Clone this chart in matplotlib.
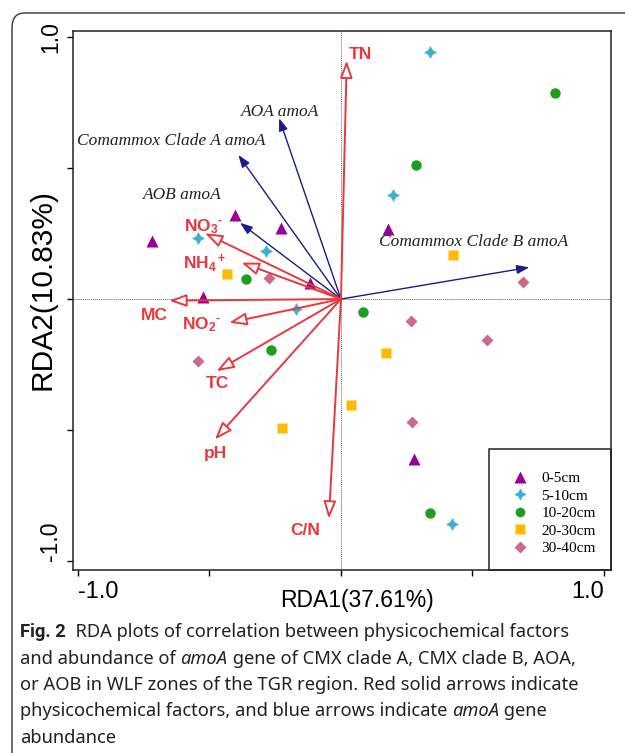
import matplotlib
matplotlib.use('Agg')
import matplotlib.pyplot as plt
from matplotlib.patches import FancyArrowPatch, FancyBboxPatch, Rectangle
from matplotlib.lines import Line2D

plt.rcParams['mathtext.fontset'] = 'custom'
plt.rcParams['mathtext.rm'] = 'Liberation Sans:bold'
plt.rcParams['mathtext.it'] = 'Liberation Sans:bold'
plt.rcParams['mathtext.bf'] = 'Liberation Sans:bold'

# environmental factor arrows (tips) and label positions
env_names = ['TN', 'NO$_3$$^{\\text{-}}$', 'NH$_4$$^+$', 'MC', 'NO$_2$$^{\\text{-}}$', 'TC', 'pH', 'C/N']
env_x = [0.022, -0.517, -0.378, -0.653, -0.425, -0.473, -0.479, -0.046]
env_y = [0.910, 0.251, 0.139, -0.006, -0.090, -0.275, -0.536, -0.838]
env_lx = [0.075, -0.521, -0.517, -0.711, -0.530, -0.470, -0.479, -0.137]
env_ly = [0.935, 0.276, 0.137, -0.061, -0.099, -0.324, -0.589, -0.884]

# gene abundance arrows
gene_names = ['AOA amoA', 'Comammox Clade A amoA', 'AOB amoA', 'Comammox Clade B amoA']
gene_x = [-0.235, -0.390, -0.384, 0.716]
gene_y = [0.690, 0.550, 0.291, 0.121]
gene_lx = [-0.232, -0.646, -0.602, 0.503]
gene_ly = [0.712, 0.603, 0.397, 0.219]

# samples by depth
d0_5_x = [-0.720, -0.403, -0.229, -0.118, -0.524, 0.180, 0.278]
d0_5_y = [0.221, 0.321, 0.270, 0.062, 0.009, 0.267, -0.611]
d5_10_x = [-0.543, -0.285, -0.172, 0.338, 0.199, 0.423]
d5_10_y = [0.232, 0.184, -0.039, 0.944, 0.397, -0.859]
d10_20_x = [-0.361, -0.267, 0.083, 0.285, 0.814, 0.338]
d10_20_y = [0.075, -0.196, -0.048, 0.511, 0.785, -0.818]
d20_30_x = [-0.435, -0.225, 0.038, 0.171, 0.427]
d20_30_y = [0.095, -0.491, -0.403, -0.207, 0.168]
d30_40_x = [-0.275, -0.543, 0.266, 0.554, 0.270, 0.693]
d30_40_y = [0.079, -0.237, -0.085, -0.158, -0.469, 0.066]

depth_labels = ['0-5cm', '5-10cm', '10-20cm', '20-30cm', '30-40cm']

RED = '#E8383D'
NAVY = '#1B1B8A'

fig = plt.figure(figsize=(6.25, 7.53), dpi=100)

# rounded frame around the figure
frame = FancyBboxPatch((12 / 625, -0.05), 1.2, 1 - 13 / 753 + 0.05,
                       boxstyle='round,pad=0,rounding_size=0.02',
                       transform=fig.transFigure, fill=False,
                       edgecolor='#333333', linewidth=1.0)
fig.patches.append(frame)

ax = fig.add_axes([73 / 625, 1 - 570 / 753, (611 - 73) / 625, (570 - 31) / 753])
ax.set_xlim(-1.019, 1.027)
ax.set_ylim(-1.034, 1.023)

ax.axhline(0, color='#666666', lw=0.7, ls=(0, (1, 1)), zorder=1)
ax.axvline(0, color='#666666', lw=0.7, ls=(0, (1, 1)), zorder=1)

for s in ax.spines.values():
    s.set_linewidth(1.1)
    s.set_color('#222222')

ax.set_xticks([-1, -0.5, 0, 0.5, 1])
ax.set_yticks([-1, -0.5, 0, 0.5, 1])
ax.set_xticklabels(['-1.0', '', '', '', '1.0'], fontsize=17, family='Liberation Sans')
ax.set_yticklabels(['-1.0', '', '', '', '1.0'], fontsize=16.5, family='Liberation Sans',
                   rotation=90)
ax.tick_params(direction='out', length=4, width=1, pad=4)
xt = ax.get_xticklabels()
xt[0].set_ha('left')
xt[4].set_ha('right')
yt = ax.get_yticklabels()
yt[0].set_va('bottom')
yt[4].set_va('center')

ax.set_xlabel('RDA1(37.61%)', fontsize=16.5, family='Liberation Sans')
ax.set_ylabel('RDA2(10.83%)', fontsize=21.5, family='Liberation Sans')
ax.xaxis.set_label_coords(0.528, -0.036)
ax.yaxis.set_label_coords(-0.03, 0.521)

# sample points
ax.plot(d0_5_x, d0_5_y, ls='none', marker='^', ms=9, color='#990099', mec='none', zorder=3)
ax.plot(d5_10_x, d5_10_y, ls='none', marker=(4, 1, 0), ms=8.5, color='#3DAFCF', mec='#3DAFCF', mew=0.4, zorder=3)
ax.plot(d10_20_x, d10_20_y, ls='none', marker='o', ms=7.5, color='#1E9E1E', mec='none', zorder=3)
ax.plot(d20_30_x, d20_30_y, ls='none', marker='s', ms=7, color='#FFB900', mec='none', zorder=3)
ax.plot(d30_40_x, d30_40_y, ls='none', marker='D', ms=6.5, color='#CC6A88', mec='none', zorder=3)

# gene arrows (blue)
for name, x, y, lx, ly in zip(gene_names, gene_x, gene_y, gene_lx, gene_ly):
    ax.add_patch(FancyArrowPatch((0, 0), (x, y), arrowstyle='-|>,head_length=0.75,head_width=0.27',
                                 mutation_scale=10, color=NAVY, lw=1.0, shrinkA=0, shrinkB=0, zorder=4))
    ax.text(lx, ly, name, ha='center', va='center', fontsize=12.5, style='italic',
            family='Liberation Serif', color='#222222', zorder=5)

# environmental arrows (red, hollow heads)
for name, x, y, lx, ly in zip(env_names, env_x, env_y, env_lx, env_ly):
    ax.add_patch(FancyArrowPatch((0, 0), (x, y), arrowstyle='-|>,head_length=1.05,head_width=0.38',
                                 mutation_scale=10, edgecolor=RED, facecolor='white', lw=1.4,
                                 shrinkA=0, shrinkB=0, zorder=4))
    ax.text(lx, ly, name, ha='center', va='center', fontsize=12.5, fontweight='bold',
            family='Liberation Sans', color=RED, zorder=5)

# legend box in the lower right corner
ax.add_patch(Rectangle((0.7727, 0.0), 0.2273, 0.2245, transform=ax.transAxes,
                       fill=False, edgecolor='#222222', lw=1.1, zorder=6, clip_on=False))
handles = [
    Line2D([], [], ls='none', marker='^', ms=8, color='#990099', mec='none'),
    Line2D([], [], ls='none', marker=(4, 1, 0), ms=8, color='#3DAFCF', mec='#3DAFCF', mew=0.4),
    Line2D([], [], ls='none', marker='o', ms=7, color='#1E9E1E', mec='none'),
    Line2D([], [], ls='none', marker='s', ms=7, color='#FFB900', mec='none'),
    Line2D([], [], ls='none', marker='D', ms=6, color='#CC6A88', mec='none'),
]
leg = ax.legend(handles, depth_labels, loc='center', bbox_to_anchor=(0.893, 0.105),
                frameon=False, prop={'family': 'Liberation Serif', 'size': 11},
                handlelength=1.2, handletextpad=0.8, labelspacing=0.25, borderaxespad=0)

# caption
fig.canvas.draw()
renderer = fig.canvas.get_renderer()

caption = [
    [('Fig. 2', 'bold', 'normal'), ('  RDA plots of correlation between physicochemical factors', 'normal', 'normal')],
    [('and abundance of ', 'normal', 'normal'), ('amoA', 'normal', 'italic'),
     (' gene of CMX clade A, CMX clade B, AOA,', 'normal', 'normal')],
    [('or AOB in WLF zones of the TGR region. Red solid arrows indicate', 'normal', 'normal')],
    [('physicochemical factors, and blue arrows indicate ', 'normal', 'normal'), ('amoA', 'normal', 'italic'),
     (' gene', 'normal', 'normal')],
    [('abundance', 'normal', 'normal')],
]
line_y = [632, 659, 685, 711, 738]
W, H = fig.get_size_inches() * fig.dpi
for runs, py in zip(caption, line_y):
    px = 20
    for txt, wt, st in runs:
        fam = 'Roboto' if wt == 'bold' else 'Noto Sans'
        t = fig.text(px / W, 1 - py / H, txt, fontsize=13.2, family=fam,
                     fontweight=wt, style=st, color='#222222', va='center', ha='left')
        bb = t.get_window_extent(renderer)
        px += bb.width

fig.savefig('out.png', dpi=100)
